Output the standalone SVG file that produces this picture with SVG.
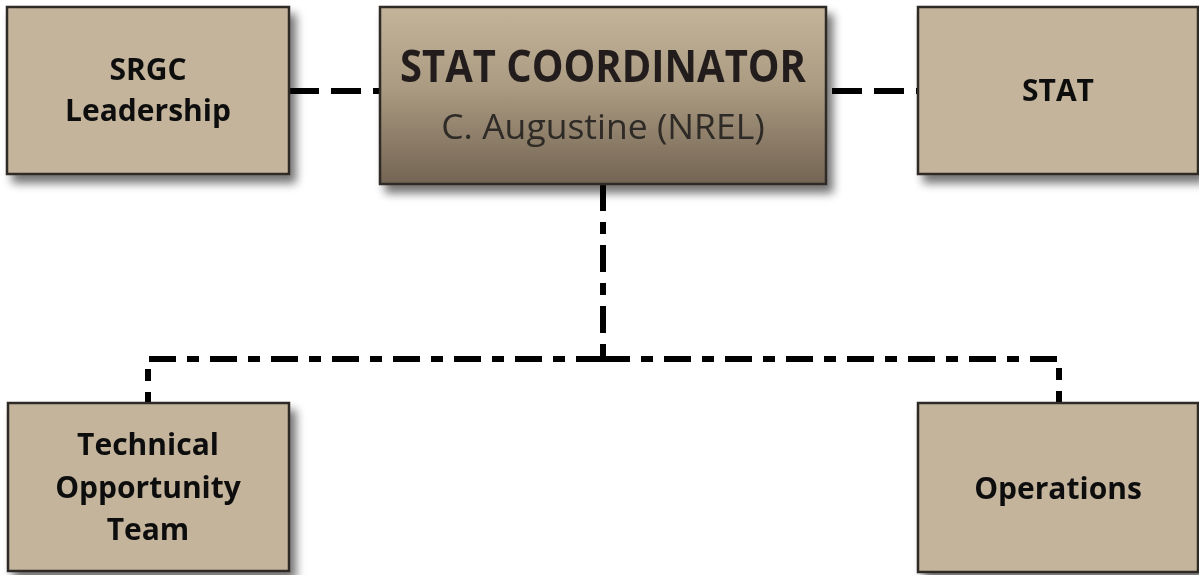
<svg xmlns="http://www.w3.org/2000/svg" width="1199" height="575" viewBox="0 0 1199 575">
<defs>
<linearGradient id="cg" x1="0" y1="0" x2="0" y2="1">
<stop offset="0" stop-color="#c4b49a"/>
<stop offset="0.45" stop-color="#ab9b82"/>
<stop offset="1" stop-color="#736453"/>
</linearGradient>
<filter id="sh" x="-10%" y="-10%" width="125%" height="135%">
<feGaussianBlur in="SourceAlpha" stdDeviation="5"/>
<feOffset dx="6" dy="8" result="b"/>
<feComponentTransfer><feFuncA type="linear" slope="0.55"/></feComponentTransfer>
<feMerge><feMergeNode/><feMergeNode in="SourceGraphic"/></feMerge>
</filter>
</defs>
<style>
.box{fill:#c4b49b;stroke:#2e2a26;stroke-width:2.5}
.lbl{font-family:"Open Sans","Liberation Sans",sans-serif;font-weight:bold;font-size:30px;fill:#111;text-anchor:middle}
.dash{fill:none;stroke:#000;stroke-width:6;stroke-dasharray:30 12}
.dd{fill:none;stroke:#000;stroke-width:6;stroke-dasharray:27 11 12 11}
</style>
<rect width="1199" height="575" fill="#fff"/>
<g id="connectors">
<line class="dash" x1="289" y1="91" x2="380" y2="91"/>
<line class="dash" x1="832" y1="91" x2="918" y2="91"/>
<path class="dd" d="M603 184 V359"/>
<path class="dd" d="M603 359 H1059 V403"/>
<path class="dd" d="M603 359 H148 V403"/>
</g>
<g id="srgc" filter="url(#sh)">
<rect class="box" x="7" y="7" width="282" height="167"/>
<text class="lbl" x="148" y="80">SRGC</text>
<text class="lbl" x="148" y="121">Leadership</text>
</g>
<g id="coordinator" filter="url(#sh)">
<rect x="380" y="7" width="446" height="177" fill="url(#cg)" stroke="#2e2a26" stroke-width="2.5"/>
<text x="603" y="82" font-family="Open Sans, Liberation Sans, sans-serif" font-weight="bold" font-size="44" fill="#231f1c" text-anchor="middle" textLength="406" lengthAdjust="spacingAndGlyphs">STAT COORDINATOR</text>
<text x="603" y="139" font-family="Open Sans, Liberation Sans, sans-serif" font-size="35.5" fill="#2e2a26" text-anchor="middle">C. Augustine (NREL)</text>
</g>
<g id="stat" filter="url(#sh)">
<rect class="box" x="918" y="7" width="280" height="167"/>
<text class="lbl" x="1058" y="101">STAT</text>
</g>
<g id="tot" filter="url(#sh)">
<rect class="box" x="8" y="403" width="281" height="168"/>
<text class="lbl" x="148" y="455">Technical</text>
<text class="lbl" x="148" y="498">Opportunity</text>
<text class="lbl" x="148" y="540">Team</text>
</g>
<g id="operations" filter="url(#sh)">
<rect class="box" x="918" y="403" width="280" height="169"/>
<text class="lbl" x="1058" y="499">Operations</text>
</g>
</svg>
